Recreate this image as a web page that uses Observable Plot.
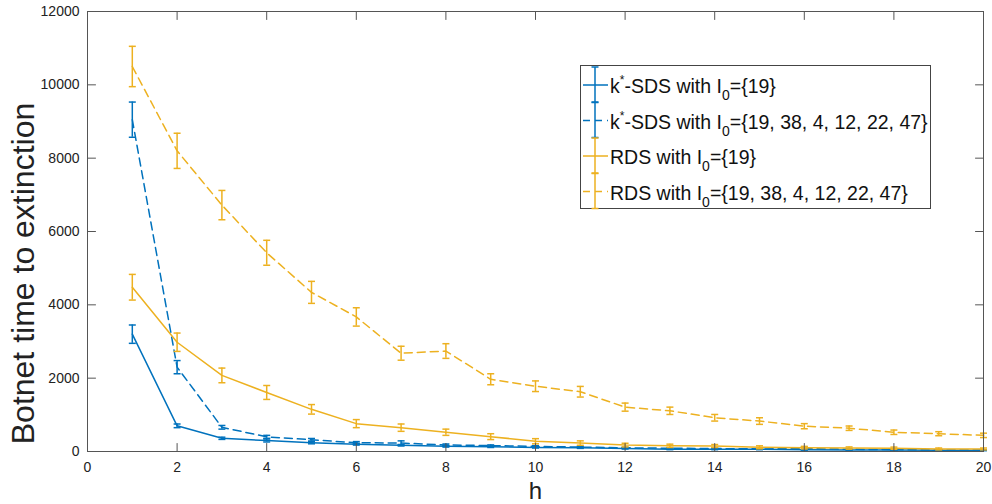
<!DOCTYPE html>
<html>
<head>
<meta charset="utf-8">
<script src="https://cdn.jsdelivr.net/npm/d3@7"></script>
<script src="https://cdn.jsdelivr.net/npm/@observablehq/plot@0.6"></script>
<style>
  html, body { margin: 0; padding: 0; background: #fff; }
  #chart { width: 992px; height: 504px; }
</style>
</head>
<body>
<div id="chart"></div>
<script>
// ---- data ----
const hValues = [1, 2, 3, 4, 5, 6, 7, 8, 9, 10, 11, 12, 13, 14, 15, 16, 17, 18, 19, 20];

const sdsSingle    = [3200, 700, 360, 300, 240, 200, 170, 140, 130, 110, 100, 80, 60, 60, 60, 50, 40, 40, 35, 30];
const sdsSingleErr = [250, 50, 30, 40, 30, 25, 20, 20, 20, 15, 15, 12, 10, 10, 10, 8, 8, 8, 6, 6];

const sdsMulti     = [9050, 2300, 660, 400, 320, 240, 230, 180, 160, 140, 120, 100, 90, 80, 70, 80, 60, 50, 40, 40];
const sdsMultiErr  = [480, 180, 50, 40, 35, 30, 60, 25, 20, 20, 18, 15, 15, 12, 10, 40, 10, 8, 8, 8];

const rdsSingle    = [4480, 2980, 2075, 1610, 1150, 760, 650, 525, 405, 280, 230, 175, 155, 150, 115, 105, 95, 90, 70, 70];
const rdsSingleErr = [350, 250, 200, 190, 130, 110, 100, 85, 80, 70, 60, 50, 45, 40, 40, 35, 30, 30, 25, 25];

const rdsMulti     = [10500, 8200, 6720, 5420, 4340, 3670, 2680, 2740, 1970, 1780, 1630, 1210, 1110, 920, 830, 690, 635, 525, 485, 440];
const rdsMultiErr  = [550, 480, 400, 340, 300, 250, 190, 200, 150, 145, 145, 110, 100, 90, 90, 70, 60, 60, 55, 60];

const xTicks = [0, 2, 4, 6, 8, 10, 12, 14, 16, 18, 20];
const yTicks = [0, 2000, 4000, 6000, 8000, 10000, 12000];

const BLUE = "#0072BD";
const YELLOW = "#EDB120";

const seriesDefs = [
  {key: "sdsSingle", values: sdsSingle, errs: sdsSingleErr, color: BLUE, dash: null,
   label: ["k", "*", "-SDS with I", "0", "={19}"]},
  {key: "sdsMulti", values: sdsMulti, errs: sdsMultiErr, color: BLUE, dash: "8,5",
   label: ["k", "*", "-SDS with I", "0", "={19, 38, 4, 12, 22, 47}"]},
  {key: "rdsSingle", values: rdsSingle, errs: rdsSingleErr, color: YELLOW, dash: null,
   label: ["RDS with I", "0", "={19}"]},
  {key: "rdsMulti", values: rdsMulti, errs: rdsMultiErr, color: YELLOW, dash: "8,5",
   label: ["RDS with I", "0", "={19, 38, 4, 12, 22, 47}"]}
];

const capSymbol = {
  draw(context, size) {
    const w = Math.sqrt(size / Math.PI);
    context.moveTo(-w, 0);
    context.lineTo(w, 0);
  }
};
const tickShape = {
  draw(context, l) {
    context.moveTo(0, 0);
    context.lineTo(0, -l);
  }
};

const marks = [];
for (const s of seriesDefs) {
  const rows = hValues.map((h, i) => ({h, v: s.values[i], lo: s.values[i] - s.errs[i], hi: s.values[i] + s.errs[i]}));
  marks.push(Plot.line(rows, {x: "h", y: "v", stroke: s.color, strokeWidth: 1.5, strokeDasharray: s.dash}));
  marks.push(Plot.ruleX(rows, {x: "h", y1: "lo", y2: "hi", stroke: s.color, strokeWidth: 1.5}));
  marks.push(Plot.dot(rows, {x: "h", y: "lo", symbol: capSymbol, r: 3.5, stroke: s.color, strokeWidth: 1.5, fill: "none"}));
  marks.push(Plot.dot(rows, {x: "h", y: "hi", symbol: capSymbol, r: 3.5, stroke: s.color, strokeWidth: 1.5, fill: "none"}));
}

const AX = "#555";
const xMin = 0, xMax = 20, yMin = 0, yMax = 12000;
const svg = Plot.plot({
  width: 992,
  height: 504,
  marginLeft: 87,
  marginRight: 9,
  marginTop: 11,
  marginBottom: 53,
  style: {fontFamily: "'Liberation Sans', Arial, Helvetica, sans-serif", fontSize: "14px", color: "#222", background: "#fff"},
  x: {domain: [xMin, xMax], ticks: xTicks},
  y: {domain: [yMin, yMax], ticks: yTicks},
  marks: [
    ...marks,
    Plot.frame({stroke: AX, strokeWidth: 1}),
    // inward ticks on all four sides
    Plot.vector(xTicks, {x: d => d, y: yMin, length: 8, rotate: 0, anchor: "start", shape: tickShape, stroke: AX, strokeWidth: 1}),
    Plot.vector(xTicks, {x: d => d, y: yMax, length: 8, rotate: 180, anchor: "start", shape: tickShape, stroke: AX, strokeWidth: 1}),
    Plot.vector(yTicks, {x: xMin, y: d => d, length: 8, rotate: 90, anchor: "start", shape: tickShape, stroke: AX, strokeWidth: 1}),
    Plot.vector(yTicks, {x: xMax, y: d => d, length: 8, rotate: 270, anchor: "start", shape: tickShape, stroke: AX, strokeWidth: 1}),
    Plot.axisX(xTicks, {anchor: "bottom", tickSize: 0, tickPadding: 11, label: null, fontSize: 14, fill: "#222", tickFormat: d => String(d)}),
    Plot.axisY(yTicks, {anchor: "left", tickSize: 0, tickPadding: 8, label: null, fontSize: 14, fill: "#222", tickFormat: d => String(d)}),
    Plot.text(["Botnet time to extinction"], {frameAnchor: "left", textAnchor: "middle", lineAnchor: "middle", rotate: -90, dx: -64, dy: 42, fontSize: 32, fill: "#222"}),
    Plot.text(["h"], {frameAnchor: "bottom", textAnchor: "middle", lineAnchor: "middle", dy: 40, fontSize: 24, fill: "#222"})
  ]
});

// ---- legend (inside the axes, top right) ----
const g = d3.select(svg).append("g")
  .attr("font-family", "'Liberation Sans', Arial, Helvetica, sans-serif")
  .attr("text-anchor", "start");
g.append("rect").attr("x", 580.5).attr("y", 65.5).attr("width", 350).attr("height", 143)
  .attr("fill", "#fff").attr("stroke", "#444").attr("stroke-width", 1);
seriesDefs.forEach((s, i) => {
  const cy = 85 + i * 35.5;
  const sym = g.append("g").attr("stroke", s.color).attr("stroke-width", 1.5).attr("fill", "none");
  sym.append("line").attr("x1", 583).attr("x2", 608).attr("y1", cy).attr("y2", cy)
    .attr("stroke-dasharray", s.dash ? "7,5" : null);
  sym.append("line").attr("x1", 595).attr("x2", 595).attr("y1", cy - 18).attr("y2", cy + 17);
  sym.append("line").attr("x1", 591.5).attr("x2", 598.5).attr("y1", cy - 18).attr("y2", cy - 18);
  sym.append("line").attr("x1", 591.5).attr("x2", 598.5).attr("y1", cy + 17).attr("y2", cy + 17);
  const t = g.append("text").attr("x", 610).attr("y", cy + 8).attr("font-size", 19.5).attr("fill", "#111")
    .attr("text-anchor", "start");
  const parts = s.label;
  if (parts.length === 5) {
    t.append("tspan").text(parts[0]);
    t.append("tspan").attr("font-size", 12).attr("dy", -9).text(parts[1]);
    t.append("tspan").attr("dy", 9).text(parts[2]);
    t.append("tspan").attr("font-size", 14).attr("dy", 7).text(parts[3]);
    t.append("tspan").attr("dy", -7).text(parts[4]);
  } else {
    t.append("tspan").text(parts[0]);
    t.append("tspan").attr("font-size", 14).attr("dy", 7).text(parts[1]);
    t.append("tspan").attr("dy", -7).text(parts[2]);
  }
});

document.getElementById("chart").appendChild(svg);
</script>
</body>
</html>
